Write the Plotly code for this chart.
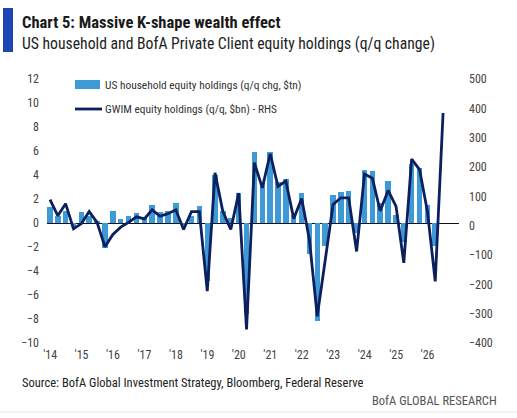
import pandas as pd
import plotly.graph_objects as go

# Quarter-end dates, 2013Q4 .. 2026Q2
quarters = pd.date_range("2013-12-31", periods=51, freq="QE")

# US household equity holdings, q/q change ($tn) - left axis (bars)
household_tn = [
    1.3, 0.6, 1.0, -0.3, 0.9, 0.55, 0.1, -2.1, 1.0, 0.3,
    0.6, 0.8, 0.5, 1.5, 0.9, 1.0, 1.7, -0.1, 0.6, 1.4,
    -4.8, 4.0, 1.0, 0.4, 2.5, -7.6, 5.9, 3.3, 5.9, 3.4,
    3.7, 0.7, 2.5, -2.6, -8.2, -1.95, 2.35, 2.6, 2.7, -0.8,
    4.4, 4.3, 1.7, 3.5, 0.7, -1.6, 4.9, 4.6, 1.5, -1.95,
]

# GWIM equity holdings, q/q change ($bn) - right axis (line)
gwim_bn = [
    89, 34, 75, -11, 7, 48, 11, -72, -30, -5,
    11, 30, 23, 54, 32, 41, 54, -13, 48, 48,
    -223, 180, 48, -13, 111, -354, 215, 129, 245, 134,
    152, 24, 93, -48, -309, -109, 72, 95, 95, -88,
    176, 162, 50, 120, 66, -127, 227, 191, 48, -190,
    384,
]

year_ticks = pd.date_range("2014-01-01", periods=13, freq="YS")
year_labels = ["'" + d.strftime("%y") for d in year_ticks]

left_ticks = list(range(-10, 13, 2))
right_ticks = list(range(-400, 501, 100))

BAR_COLOR = "#3d9ad6"
LINE_COLOR = "#0c1f5e"
FONT = "Roboto Condensed, Lato, sans-serif"

W, H = 517, 418
ML, MR, MT, MB = 47, 58, 79, 75


def px_x(x):
    return (x - ML) / (W - ML - MR)


def px_y(y):
    return 1 - (y - MT) / (H - MT - MB)


fig = go.Figure()
fig.add_trace(go.Bar(
    x=quarters[:len(household_tn)], y=household_tn,
    marker=dict(color=BAR_COLOR, line=dict(width=0)),
    width=[0.7 * 91 * 86400000] * len(household_tn),
    name="US household equity holdings (q/q chg, $tn)",
    showlegend=False,
))
fig.add_trace(go.Scatter(
    x=quarters, y=gwim_bn, yaxis="y2", mode="lines",
    line=dict(color=LINE_COLOR, width=2.8),
    name="GWIM equity holdings (q/q, $bn) - RHS",
    showlegend=False,
))

fig.update_layout(
    width=W, height=H,
    margin=dict(l=ML, r=MR, t=MT, b=MB),
    paper_bgcolor="white", plot_bgcolor="white",
    font=dict(family=FONT, color="#444444", size=12),
    bargap=0,
    xaxis=dict(
        type="date", range=["2013-11-26", "2027-01-01"],
        tickvals=list(year_ticks), ticktext=year_labels,
        showgrid=False, zeroline=False, showline=False, ticks="",
        tickfont=dict(size=12, color="#444444"),
        ticklabelstandoff=3,
    ),
    yaxis=dict(
        range=[-10, 12], tickvals=left_ticks,
        showgrid=False, zeroline=True, zerolinecolor="#111111", zerolinewidth=1.4,
        showline=False, ticks="", tickfont=dict(size=12, color="#444444"),
        ticklabelstandoff=7,
    ),
    yaxis2=dict(
        range=[-400, 500], tickvals=right_ticks, overlaying="y", side="right",
        showgrid=False, zeroline=False, showline=False, ticks="",
        tickfont=dict(size=12, color="#444444"),
        ticklabelstandoff=9,
    ),
)

shapes = [
    # header accent bar
    dict(type="rect", xref="paper", yref="paper",
         x0=px_x(3), x1=px_x(13), y0=px_y(52), y1=px_y(8),
         fillcolor="#1f45b5", line=dict(width=0)),
    # legend keys
    dict(type="rect", xref="paper", yref="paper",
         x0=px_x(75), x1=px_x(100), y0=px_y(89), y1=px_y(80),
         fillcolor=BAR_COLOR, line=dict(width=0)),
    dict(type="line", xref="paper", yref="paper",
         x0=px_x(75), x1=px_x(102), y0=px_y(109), y1=px_y(109),
         line=dict(color=LINE_COLOR, width=2.8)),
    # bottom rule
    dict(type="line", xref="paper", yref="paper",
         x0=px_x(0), x1=px_x(517), y0=px_y(412), y1=px_y(412),
         line=dict(color="#e6e6e6", width=1)),
]

annotations = [
    dict(text="<b>Chart 5: Massive K-shape wealth effect</b>", x=px_x(20), y=px_y(22),
         xref="paper", yref="paper", xanchor="left", yanchor="middle", showarrow=False,
         font=dict(size=16.5, color="#1a1a1a", family=FONT)),
    dict(text="US household and BofA Private Client equity holdings (q/q change)",
         x=px_x(20), y=px_y(43), xref="paper", yref="paper", xanchor="left",
         yanchor="middle", showarrow=False,
         font=dict(size=15.7, color="#222222", family=FONT)),
    dict(text="US household equity holdings (q/q chg, $tn)", x=px_x(103), y=px_y(84.5),
         xref="paper", yref="paper", xanchor="left", yanchor="middle", showarrow=False,
         font=dict(size=11.4, color="#333333", family=FONT)),
    dict(text="GWIM equity holdings (q/q, $bn) - RHS", x=px_x(103), y=px_y(109),
         xref="paper", yref="paper", xanchor="left", yanchor="middle", showarrow=False,
         font=dict(size=11.4, color="#333333", family=FONT)),
    dict(text="Source: BofA Global Investment Strategy, Bloomberg, Federal Reserve",
         x=px_x(20), y=px_y(382), xref="paper", yref="paper", xanchor="left",
         yanchor="middle", showarrow=False,
         font=dict(size=12.5, color="#222222", family=FONT)),
    dict(text="BofA GLOBAL RESEARCH", x=px_x(499), y=px_y(400), xref="paper", yref="paper",
         xanchor="right", yanchor="middle", showarrow=False,
         font=dict(size=12.5, color="#555555", family=FONT)),
]

fig.update_layout(shapes=shapes, annotations=annotations)
fig.write_html("out.html", config={"displayModeBar": False},
               post_script="document.body.style.margin='0';")
